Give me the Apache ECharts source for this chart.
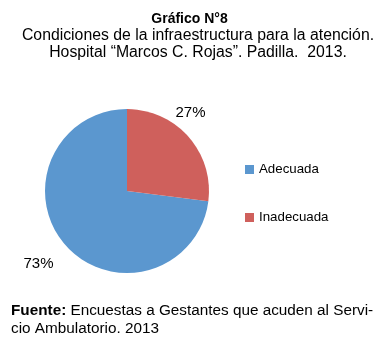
<!DOCTYPE html>
<html>
<head>
<meta charset="utf-8">
<script src="https://cdn.jsdelivr.net/npm/echarts@6/dist/echarts.min.js"></script>
<style>
html,body{margin:0;padding:0;background:#fff;}
#chart{width:379px;height:345px;}
</style>
</head>
<body>
<div id="chart"></div>
<script>
// Infrastructure conditions survey results
const categories = ['Adecuada', 'Inadecuada'];
const values = [73, 27];
const colors = ['#5b97cf', '#cf605c'];
// nudges for the percentage labels (pixels), per slice
const labelShift = [[3, 13], [-28, -19]];

const chart = echarts.init(document.getElementById('chart'));
const font = '"Liberation Sans", Arial, sans-serif';

chart.setOption({
  backgroundColor: '#fff',
  animation: false,
  title: [
    {
      text: 'Gráfico N°8',
      left: 'center',
      top: 7,
      textStyle: { fontFamily: font, fontSize: 14, fontWeight: 'bold', color: '#000' }
    },
    {
      text: 'Condiciones de la infraestructura para la atención.\nHospital “Marcos C. Rojas”. Padilla.  2013.',
      left: 193,
      textAlign: 'center',
      top: 22,
      textStyle: { fontFamily: font, fontSize: 15.8, fontWeight: 'normal', color: '#000', lineHeight: 17, align: 'center' }
    },
    {
      text: '{b|Fuente:} Encuestas a Gestantes que acuden al Servi-\ncio Ambulatorio. 2013',
      left: 6,
      top: 297,
      textStyle: {
        fontFamily: font, fontSize: 15.3, fontWeight: 'normal', color: '#000', lineHeight: 18,
        rich: { b: { fontFamily: font, fontSize: 15.3, fontWeight: 'bold', color: '#000' } }
      }
    }
  ],
  legend: {
    orient: 'vertical',
    left: 240,
    top: 158,
    itemWidth: 9,
    itemHeight: 9,
    itemGap: 35,
    icon: 'rect',
    data: categories,
    textStyle: { fontFamily: font, fontSize: 13.3, color: '#000' }
  },
  series: [{
    type: 'pie',
    center: [127, 191],
    radius: 82,
    startAngle: 90,
    clockwise: false,
    color: colors,
    data: categories.map((name, i) => ({ name, value: values[i] })),
    label: {
      show: true,
      position: 'outside',
      formatter: p => p.value + '%',
      fontFamily: font,
      fontSize: 15,
      color: '#000'
    },
    labelLine: { show: false, length: 8, length2: 4 },
    labelLayout: p => ({ dx: labelShift[p.dataIndex][0], dy: labelShift[p.dataIndex][1] }),
    emphasis: { disabled: true }
  }]
});
</script>
</body>
</html>
